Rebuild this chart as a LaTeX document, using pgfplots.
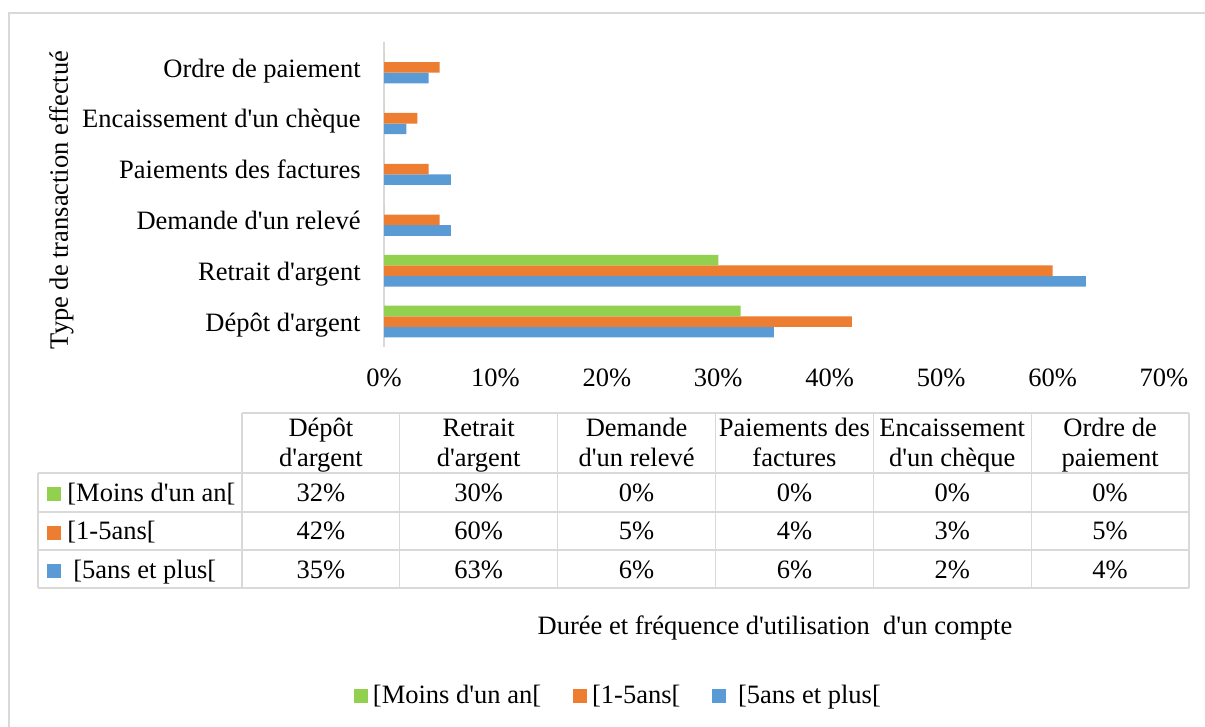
\documentclass[border=0pt]{standalone}
\usepackage{pgfplots}
\pgfplotsset{compat=1.18}
\usepackage{fontspec}
\setmainfont{Liberation Serif}[Ligatures=TeXOff]
\definecolor{cBlue}{HTML}{5B9BD5}
\definecolor{cOrange}{HTML}{ED7D31}
\definecolor{cGreen}{HTML}{92D050}
\definecolor{cGrid}{HTML}{D9D9D9}
\begin{document}
\begin{tikzpicture}[x=0.5pt,y=-0.5pt,font=\fontsize{13.25}{15.9}\selectfont]
\path[use as bounding box] (0,0) rectangle (1205,727);
\draw[cGrid,line width=0.6pt] (1205,13) -- (9,13) -- (9,727);
\begin{axis}[
  at={(192pt,-21pt)}, anchor=north west,
  scale only axis, width=390pt, height=152.5pt,
  xbar, bar width=5.3pt,
  xmin=0, xmax=70, ymin=-0.5, ymax=5.5,
  axis y line*=left, axis x line*=bottom,
  x axis line style={draw=none},
  y axis line style={cGrid, line width=0.6pt},
  ytick={0,...,5},
  yticklabels={Dépôt d'argent, Retrait d'argent, Demande d'un relevé, Paiements des factures, Encaissement d'un chèque, Ordre de paiement},
  xtick={0,10,...,70},
  xticklabels={0\%,10\%,20\%,30\%,40\%,50\%,60\%,70\%},
  /pgf/number format/assume math mode=true,
  major tick length=0pt,
  xticklabel style={anchor=base, inner sep=0pt, yshift=-19.85pt},
  yticklabel style={anchor=base east, inner sep=0pt, xshift=-11.5pt, yshift=-4.8pt},
  legend columns=3, reverse legend,
  legend style={draw=none, fill=none, inner sep=0pt, outer sep=0pt,
    at={(-0.0385,-1.1443)}, anchor=west,
    nodes={inner sep=0pt},
    /tikz/every even column/.append style={column sep=16pt},
    /tikz/every odd column/.append style={column sep=2.5pt}},
  legend image code/.code={\fill[#1] (0pt,-3.5pt) rectangle (7pt,3.5pt);},
]
\addplot[fill=cBlue, draw=none, bar shift=-5.3pt] coordinates {(35,0) (63,1) (6,2) (6,3) (2,4) (4,5)};
\addlegendentry{\ {[}5ans et plus[}
\addplot[fill=cOrange, draw=none, bar shift=0pt] coordinates {(42,0) (60,1) (5,2) (4,3) (3,4) (5,5)};
\addlegendentry{{[}1-5ans[}
\addplot[fill=cGreen, draw=none, bar shift=5.3pt] coordinates {(32,0) (30,1) (0,2) (0,3) (0,4) (0,5)};
\addlegendentry{{[}Moins d'un an[}
\end{axis}
% axis titles
\node[rotate=90, anchor=base, inner sep=0pt] at (68,200) {Type de transaction effectué};
\node[anchor=base, inner sep=0pt] at (775,634) {Durée et fréquence d'utilisation\ \ d'un compte};
% data table
\begin{scope}[cGrid, line width=0.6pt]
\draw (242,413) -- (1189,413);
\foreach \yy in {473,512,550,588} {\draw (38,\yy) -- (1189,\yy);}
\draw (38,473) -- (38,588);
\foreach \xx in {242,399.8,557.7,715.5,873.3,1031.2,1189} {\draw (\xx,413) -- (\xx,588);}
\end{scope}
\tikzset{tt/.style={anchor=base, inner sep=0pt}}
\node[tt] at (320.9,437) {Dépôt};        \node[tt] at (320.9,466) {d'argent};
\node[tt] at (478.7,437) {Retrait};      \node[tt] at (478.7,466) {d'argent};
\node[tt] at (636.6,437) {Demande};      \node[tt] at (636.6,466) {d'un relevé};
\node[tt] at (794.4,437) {Paiements des};\node[tt] at (794.4,466) {factures};
\node[tt] at (952.2,437) {Encaissement}; \node[tt] at (952.2,466) {d'un chèque};
\node[tt] at (1110.1,437) {Ordre de};    \node[tt] at (1110.1,466) {paiement};
\fill[cGreen] (47,487) rectangle (61,501);
\fill[cOrange] (47,525.5) rectangle (61,539.5);
\fill[cBlue] (47,564) rectangle (61,578);
\node[anchor=base west, inner sep=0pt] at (67,501) {{[}Moins d'un an[};
\node[anchor=base west, inner sep=0pt] at (67,539.5) {{[}1-5ans[};
\node[anchor=base west, inner sep=0pt] at (73,578) {{[}5ans et plus[};
\foreach \v [count=\i from 0] in {32,30,0,0,0,0} {\node[tt] at (320.9+157.84*\i,501) {\v\%};}
\foreach \v [count=\i from 0] in {42,60,5,4,3,5} {\node[tt] at (320.9+157.84*\i,539.5) {\v\%};}
\foreach \v [count=\i from 0] in {35,63,6,6,2,4} {\node[tt] at (320.9+157.84*\i,578) {\v\%};}
\end{tikzpicture}
\end{document}
